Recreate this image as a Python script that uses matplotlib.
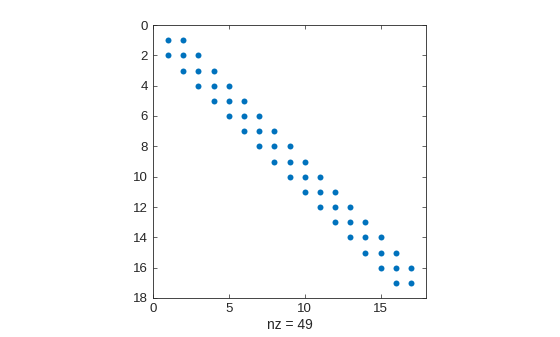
import matplotlib.pyplot as plt
import numpy as np

plt.rcParams['font.family'] = ['Liberation Sans', 'DejaVu Sans']

n = 17
# tridiagonal sparsity pattern
rows = []
cols = []
for i in range(1, n + 1):
    for j in (i - 1, i, i + 1):
        if 1 <= j <= n:
            rows.append(i)
            cols.append(j)
nz = len(rows)

x_ticks = [0, 5, 10, 15]
y_ticks = list(range(0, 19, 2))

fig = plt.figure(figsize=(5.6, 3.37), dpi=100)
ax = fig.add_axes([153 / 560, 1 - 298 / 337, 273 / 560, 273 / 337])
ax.plot(cols, rows, 'o', color='#0072BD', markersize=4.3, markeredgewidth=0)
ax.set_xlim(0, n + 1)
ax.set_ylim(n + 1, 0)
ax.set_xticks(x_ticks)
ax.set_yticks(y_ticks)
ax.tick_params(direction='in', length=3, width=0.5, labelsize=9.5, top=True, right=True,
               labeltop=False, labelright=False, colors='#262626')
for s in ax.spines.values():
    s.set_linewidth(0.6)
    s.set_color('#262626')
ax.set_xlabel(f'nz = {nz}', fontsize=10, color='#262626', labelpad=2)
fig.savefig('out.png', dpi=100)
